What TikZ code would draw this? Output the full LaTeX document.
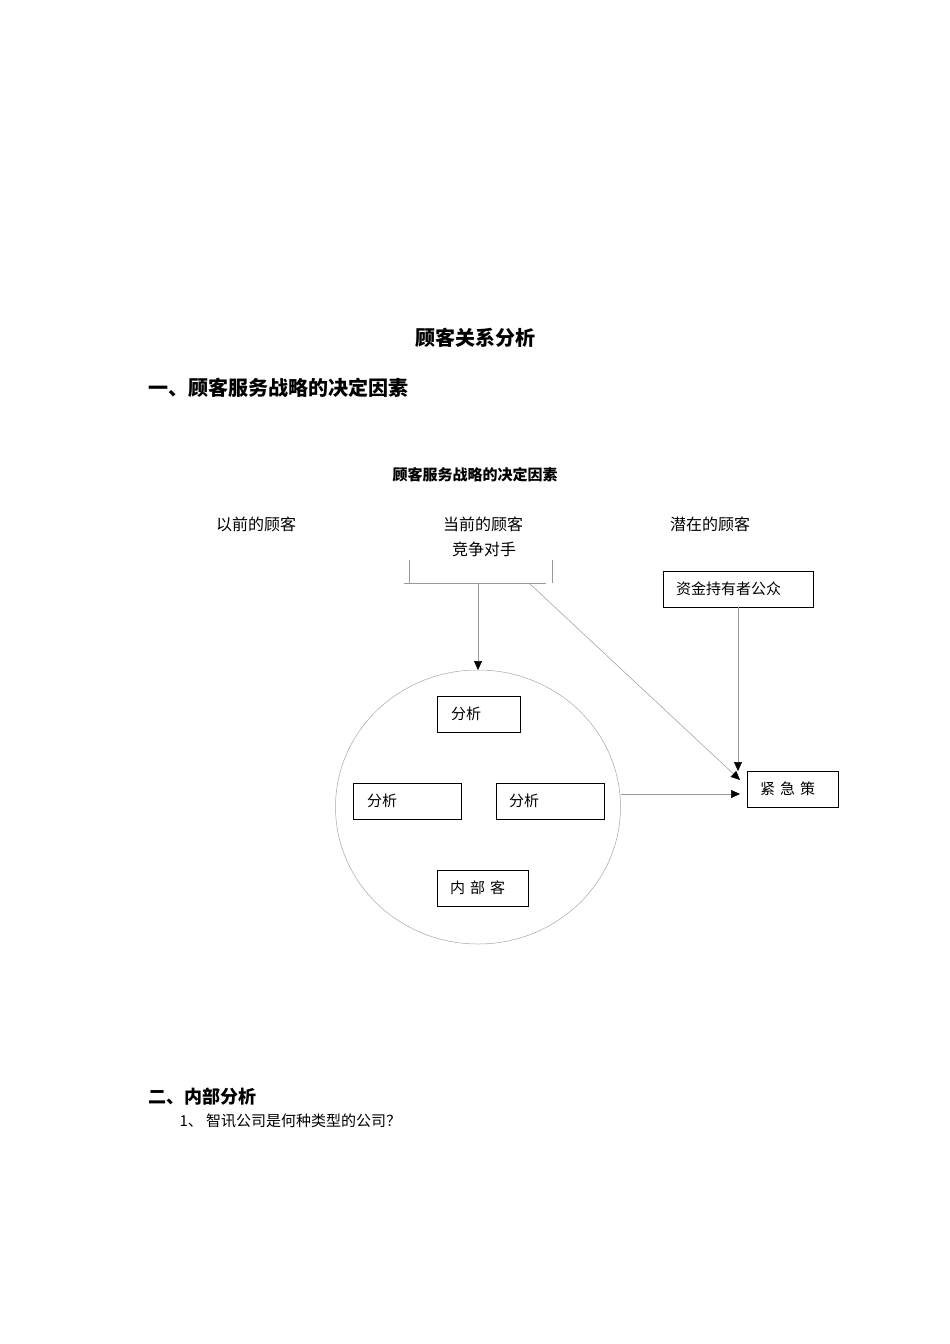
\documentclass[tikz,border=0pt]{standalone}
\usepackage{fontspec}
\setmainfont{Noto Sans CJK SC}
\usetikzlibrary{arrows.meta,shapes.geometric}
\begin{document}
\begin{tikzpicture}[x=1pt,y=-1pt,
  bx/.style={draw,line width=0.9pt,inner sep=0pt},
  lbl/.style={font=\fontsize{15}{15}\selectfont,anchor=west,inner sep=0pt},
  conn/.style={draw=gray!80,line width=0.5pt},
  arr/.style={conn,-{Triangle[length=9pt,width=8pt,fill=black,color=black]}}]
\useasboundingbox (0,0) rectangle (950,1344);
\node (t1) at (475,338) {\fontsize{20}{20}\selectfont\bfseries 顾客关系分析};
\node[anchor=west] (t2) at (145,388) {\fontsize{20}{20}\selectfont\bfseries 一、顾客服务战略的决定因素};
\node (t3) at (475,475) {\fontsize{15}{15}\selectfont\bfseries 顾客服务战略的决定因素};
\node (c1) at (256,524) {\fontsize{16}{16}\selectfont 以前的顾客};
\node (c2) at (483,524) {\fontsize{16}{16}\selectfont 当前的顾客};
\node (c3) at (484,549) {\fontsize{16}{16}\selectfont 竞争对手};
\node (c4) at (710,524) {\fontsize{16}{16}\selectfont 潜在的顾客};
% bracket
\coordinate (bl) at (404,583); \coordinate (br) at (546,583);
\draw[conn] (409,560) -- (409,583) (552,560) -- (552,583);
\draw[conn] (bl) -- (br);
\coordinate (bm) at (478,583); \coordinate (bd) at (529,583);
% circle
\node[draw=gray!70,line width=0.5pt,ellipse,minimum width=285pt,minimum height=274pt,inner sep=0pt] (circ) at (478,807) {};
\node[bx,minimum width=83pt,minimum height=36pt] (a1) at (478.5,714) {};
\node[lbl] at (451,714) {分析};
\node[bx,minimum width=108pt,minimum height=36pt] (a2) at (407,801) {};
\node[lbl] at (367,801) {分析};
\node[bx,minimum width=108pt,minimum height=36pt] (a3) at (550,801) {};
\node[lbl] at (509,801) {分析};
\node[bx,minimum width=91pt,minimum height=36pt] (a4) at (482.5,888) {};
\node[lbl] at (450,888) {内\,\,部\,\,客};
\node[bx,minimum width=150pt,minimum height=36pt] (f) at (738,589) {};
\node[lbl] at (676,589) {资金持有者公众};
\node[bx,minimum width=91pt,minimum height=36pt] (j) at (792.5,789) {};
\node[lbl] at (760,789) {紧\,\,急\,\,策};
\coordinate (ct) at (478,670);
\coordinate (jl) at (740,794);
\coordinate (jd) at (740,780);
\coordinate (jt) at (738,771);
\draw[arr] (bm) -- (ct);
\draw[arr] (bd) -- (jd);
\draw[arr] (f.south) -- (jt);
\draw[arr] (621,794) -- (jl);
\node[anchor=west] (s2) at (145,1097) {\fontsize{18}{18}\selectfont\bfseries 二、内部分析};
\node[anchor=west] (q1) at (176,1121) {\fontsize{15}{15}\selectfont 1、 智讯公司是何种类型的公司？};
\end{tikzpicture}
\end{document}
